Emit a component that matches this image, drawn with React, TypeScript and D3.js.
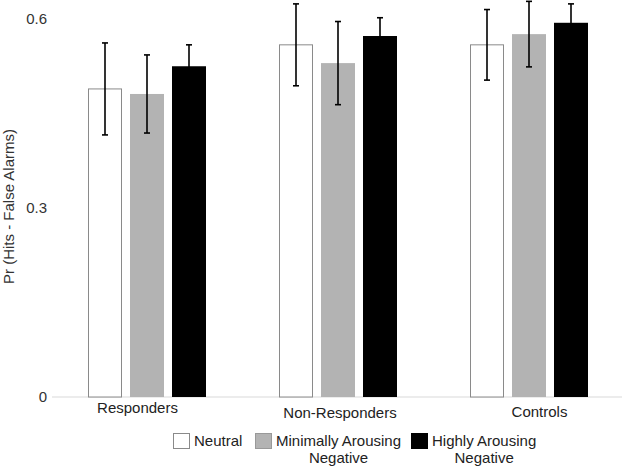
import React from "react";
import * as d3 from "d3";

const groups = ["Responders", "Non-Responders", "Controls"];
const series = ["Neutral", "Minimally Arousing Negative", "Highly Arousing Negative"];
const legendLines = [["Neutral"], ["Minimally Arousing", "Negative"], ["Highly Arousing", "Negative"]];
const neutralVals = [0.489, 0.559, 0.559];
const minimalVals = [0.481, 0.530, 0.576];
const highVals = [0.525, 0.573, 0.594];
const neutralErr = [0.073, 0.065, 0.056];
const minimalErr = [0.062, 0.066, 0.052];
const highErr = [0.034, 0.029, 0.030];
const yTicks = [0, 0.3, 0.6];

const fills = ["#ffffff", "#b3b3b3", "#000000"];
const strokes = ["#8a8a8a", "none", "none"];
// label layout offsets (px) relative to group centres, as placed in the original
const labelDx = [-9.5, 2, 10.5];
const labelY = [413, 418, 417];

const W = 622;
const H = 468;
const FONT = "'Liberation Sans', Arial, sans-serif";

export default function App() {
  const values = [neutralVals, minimalVals, highVals];
  const errs = [neutralErr, minimalErr, highErr];
  const y = d3.scaleLinear().domain([0, 0.6]).range([397, 19]);
  const x0 = d3.scaleBand().domain(groups).range([51.5, 624.5]);
  const x1 = d3.scaleBand().domain(series).range([-59, 59]).paddingInner(8 / 42).paddingOuter(0);
  const bw = x1.bandwidth();

  const legendX = [173, 255, 411];

  return (
    <svg width={W} height={H} style={{ position: "absolute", left: 0, top: 0, background: "#fff" }} fontFamily={FONT}>
      <rect x={0} y={0} width={W} height={H} fill="#fff" />
      {/* baseline */}
      <line x1={52} x2={W} y1={y(0)} y2={y(0)} stroke="#d9d9d9" strokeWidth={1} />
      {/* y ticks */}
      {yTicks.map((t) => (
        <text key={t} x={47} y={y(t)} dy="0.35em" textAnchor="end" fontSize={15} fill="#333">
          {d3.format("")(t)}
        </text>
      ))}
      {/* y title */}
      <text transform={`translate(14,${206.5}) rotate(-90)`} textAnchor="middle" fontSize={15} fill="#333">
        Pr (Hits - False Alarms)
      </text>
      {/* bars */}
      {groups.map((g, gi) => {
        const cx = (x0(g) as number) + x0.bandwidth() / 2;
        return (
          <g key={g}>
            {series.map((s, si) => {
              const v = values[si][gi];
              const bx = cx + (x1(s) as number);
              const ih = strokes[si] !== "none";
              return (
                <rect
                  key={s}
                  x={ih ? bx + 0.5 : bx}
                  y={y(v)}
                  width={ih ? bw - 1 : bw}
                  height={y(0) - y(v)}
                  fill={fills[si]}
                  stroke={strokes[si]}
                  strokeWidth={1}
                />
              );
            })}
            {series.map((s, si) => {
              const v = values[si][gi];
              const e = errs[si][gi];
              const mx = cx + (x1(s) as number) + bw / 2;
              return (
                <g key={s + "e"} stroke="#000" strokeWidth={1.6}>
                  <line x1={mx} x2={mx} y1={y(v + e)} y2={y(v - e)} />
                  <line x1={mx - 3} x2={mx + 3} y1={y(v + e)} y2={y(v + e)} />
                  <line x1={mx - 3} x2={mx + 3} y1={y(v - e)} y2={y(v - e)} />
                </g>
              );
            })}
            <text x={cx + labelDx[gi]} y={labelY[gi]} textAnchor="middle" fontSize={15} fill="#222">
              {g}
            </text>
          </g>
        );
      })}
      {/* legend */}
      {series.map((s, si) => {
        const lx = legendX[si];
        const lines = legendLines[si];
        const tx = lx + 21;
        return (
          <g key={s}>
            <rect
              x={lx + 0.5}
              y={433.5}
              width={16}
              height={15}
              fill={si === 0 ? "#fff" : fills[si]}
              stroke={si === 0 ? "#8a8a8a" : si === 1 ? "#999" : "#000"}
              strokeWidth={1}
            />
            <text x={tx} y={446} fontSize={15} fill="#222">
              {lines[0]}
            </text>
            {lines.length > 1 && (
              <text
                x={tx}
                y={463}
                fontSize={15}
                fill="#222"
                textAnchor="middle"
                ref={(el) => {
                  if (el && el.previousSibling) {
                    const prev = el.previousSibling as SVGTextElement;
                    const wl = prev.getComputedTextLength();
                    el.setAttribute("x", String(tx + wl / 2));
                  }
                }}
              >
                {lines[1]}
              </text>
            )}
          </g>
        );
      })}
    </svg>
  );
}
